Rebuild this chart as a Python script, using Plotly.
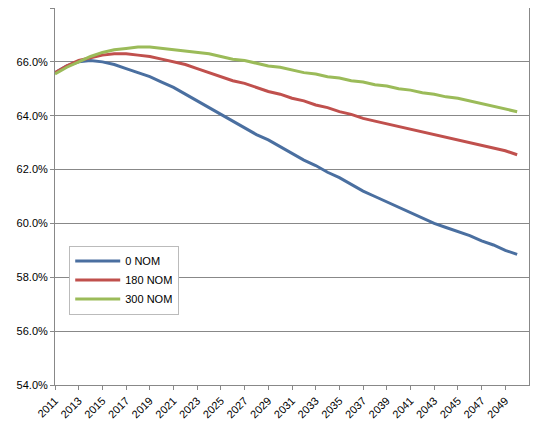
import plotly.graph_objects as go

years = list(range(2011, 2051))
nom_0 = [65.6, 65.85, 66.0, 66.05, 66.0, 65.9, 65.75, 65.6, 65.45, 65.25, 65.05, 64.8, 64.55, 64.3, 64.05,
         63.8, 63.55, 63.3, 63.1, 62.85, 62.6, 62.35, 62.15, 61.9, 61.7, 61.45, 61.2, 61.0, 60.8, 60.6,
         60.4, 60.2, 60.0, 59.85, 59.7, 59.55, 59.35, 59.2, 59.0, 58.85]
nom_180 = [65.6, 65.85, 66.05, 66.15, 66.25, 66.3, 66.3, 66.25, 66.2, 66.1, 66.0, 65.9, 65.75, 65.6, 65.45,
           65.3, 65.2, 65.05, 64.9, 64.8, 64.65, 64.55, 64.4, 64.3, 64.15, 64.05, 63.9, 63.8, 63.7, 63.6,
           63.5, 63.4, 63.3, 63.2, 63.1, 63.0, 62.9, 62.8, 62.7, 62.55]
nom_300 = [65.55, 65.8, 66.0, 66.2, 66.35, 66.45, 66.5, 66.55, 66.55, 66.5, 66.45, 66.4, 66.35, 66.3, 66.2,
           66.1, 66.05, 65.95, 65.85, 65.8, 65.7, 65.6, 65.55, 65.45, 65.4, 65.3, 65.25, 65.15, 65.1, 65.0,
           64.95, 64.85, 64.8, 64.7, 64.65, 64.55, 64.45, 64.35, 64.25, 64.15]

series = [("0 NOM", nom_0, "#4a6fa0"), ("180 NOM", nom_180, "#c0504d"), ("300 NOM", nom_300, "#9bbb59")]

fig = go.Figure()
for name, vals, color in series:
    fig.add_trace(go.Scatter(x=years, y=[v / 100 for v in vals], mode="lines", name=name,
                             line=dict(color=color, width=3)))

fig.update_layout(
    width=540, height=425, plot_bgcolor="white", paper_bgcolor="white",
    margin=dict(l=47, r=19, t=0, b=48, autoexpand=False),
    font=dict(family="Liberation Sans", size=11, color="black"),
    legend=dict(x=0.03, y=0.37, xanchor="left", yanchor="top", bgcolor="white",
                bordercolor="#bbbbbb", borderwidth=1, font=dict(size=11), tracegroupgap=26,
                itemwidth=45),
    xaxis=dict(range=[2011, 2051], tickvals=list(range(2011, 2051, 2)), tickangle=-45,
               showgrid=False, showline=True, linecolor="#888", ticks="outside", ticklen=4,
               tickcolor="#888", mirror=True, automargin=False),
    yaxis=dict(range=[0.54, 0.68], dtick=0.02, tickformat=".1%", showgrid=True, gridcolor="#888",
               showline=True, linecolor="#888", ticks="outside", ticklen=4, tickcolor="#888",
               mirror=True, zeroline=False, automargin=False),
)
fig.write_html("out.html")
